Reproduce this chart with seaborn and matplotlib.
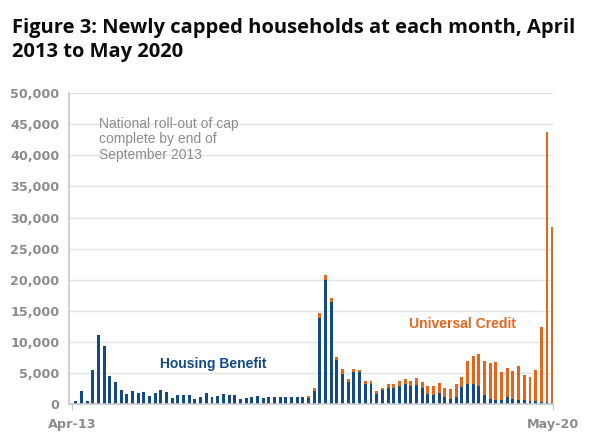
import matplotlib
matplotlib.use("Agg")
import matplotlib.pyplot as plt
import seaborn as sns
import pandas as pd
import numpy as np

# ---- data (newly capped households per month) ----
housing_benefit = [
    450, 2100, 500, 5450, 11050, 9300, 4500, 3500, 2150, 1600, 2050, 1700, 1850, 1300,
    1750, 2250, 1850, 950, 1400, 1350, 1350,
    750, 1100, 1650, 1000, 1200, 1550, 1450, 1400, 800, 900, 1150, 1200, 850, 1150,
    1000, 1100, 1100, 1100, 1100, 1050, 950,
    2100, 13750, 19950, 16400,
    7050, 4850, 3450, 5150, 5050, 3100, 3200, 1600, 2150, 2550, 2600, 2800, 3200, 2800,
    3050, 2450, 1600, 1400, 1750, 1100, 800, 1000, 2700, 3200, 3100, 2800, 1400, 750,
    550, 600, 1150, 700, 650, 650, 430, 450, 270, 270, 100,
]
universal_credit = [
    0, 0, 0, 0, 0, 0, 0, 0, 0, 0, 0, 0, 0, 0, 0, 0, 0, 0, 0, 0, 0,
    0, 0, 0, 0, 0, 0, 0, 0, 0, 0, 0, 0, 0, 0, 0, 0, 0, 0, 0, 0,
    300, 400, 850, 750, 600, 500, 800, 450, 450, 450, 500, 450, 450, 450, 550, 600,
    800, 750, 900, 1100, 1050, 1200, 1500, 1600, 1500, 1600, 2100, 1650, 3600, 4600,
    5200, 5450, 5800, 6100, 4500, 4650, 4550, 5500, 4000, 3920, 5000, 12080, 43430, 28400,
]
tick_labels = ["Apr-13", "May-20"]
y_ticks = [0, 5000, 10000, 15000, 20000, 25000, 30000, 35000, 40000, 45000, 50000]

HB_COLOR = "#114a86"
UC_COLOR = "#e8641b"
GREY = "#8c8c8c"

df = pd.DataFrame({
    "month": np.arange(len(housing_benefit)),
    "hb": housing_benefit,
    "uc": universal_credit,
})
df["total"] = df["hb"] + df["uc"]

W, H = 589, 443
fig = plt.figure(figsize=(W / 100, H / 100), dpi=100)
fig.patch.set_facecolor("white")

left, right, top, bottom = 69.3, 552.7, 93.4, 403.7
ax = fig.add_axes([left / W, 1 - bottom / H, (right - left) / W, (bottom - top) / H])

sns.barplot(data=df, x="month", y="total", color=UC_COLOR, native_scale=True,
            width=0.52, saturation=1, errorbar=None, ax=ax, linewidth=0)
sns.barplot(data=df, x="month", y="hb", color=HB_COLOR, native_scale=True,
            width=0.52, saturation=1, errorbar=None, ax=ax, linewidth=0)

ax.set_xlim(-1.13, len(df) - 1)
ax.set_ylim(0, 50000)
ax.set_yticks(y_ticks)
ax.set_yticklabels([f"{v:,}" for v in y_ticks])
ax.set_xticks([df["month"].iloc[0] - 0.6, df["month"].iloc[-1]])
ax.set_xticklabels(tick_labels)
ax.set_xlabel("")
ax.set_ylabel("")

ax.grid(axis="y", color="#e3e3e3", linewidth=1)
ax.set_axisbelow(True)
for s in ["top", "right"]:
    ax.spines[s].set_visible(False)
for s in ["left", "bottom"]:
    ax.spines[s].set_color("#c8c8c8")
    ax.spines[s].set_linewidth(1.2)

ax.tick_params(axis="y", length=0, pad=7)
ax.tick_params(axis="x", length=4, color="#c8c8c8", pad=6)
for lab in ax.get_yticklabels() + ax.get_xticklabels():
    lab.set_fontfamily("DejaVu Sans")
    lab.set_fontweight("bold")
    lab.set_fontsize(9.2)
    lab.set_color(GREY)

def fx(px):
    return px / W

def fy(py):
    return 1 - py / H

fig.text(fx(12), fy(18), "Figure 3: Newly capped households at each month, April\n2013 to May 2020",
         ha="left", va="top", fontsize=14.5, fontweight="bold", family="Open Sans",
         color="#0b0c0c", linespacing=1.25)

fig.text(fx(99), fy(117), "National roll-out of cap\ncomplete by end of\nSeptember 2013",
         ha="left", va="top", fontsize=10, family="Liberation Sans", color=GREY,
         linespacing=1.12)
fig.text(fx(213), fy(364), "Housing Benefit", ha="center", va="center", fontsize=10,
         fontweight="bold", family="Liberation Sans", color=HB_COLOR)
fig.text(fx(462.5), fy(323.5), "Universal Credit", ha="center", va="center", fontsize=10,
         fontweight="bold", family="Liberation Sans", color=UC_COLOR)

fig.savefig("out.png", dpi=100, facecolor="white")
